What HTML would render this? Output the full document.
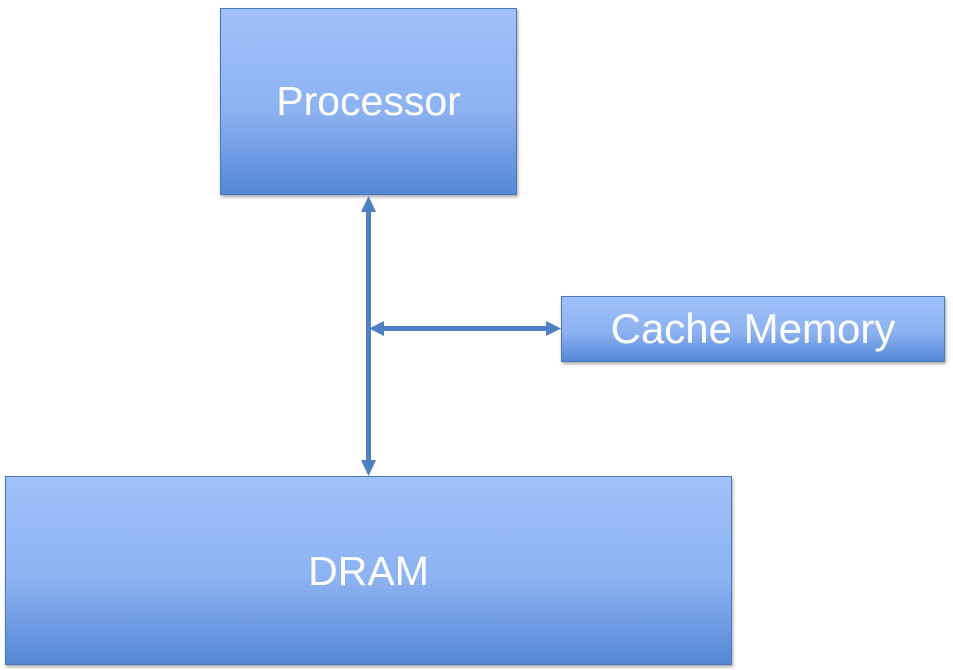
<!DOCTYPE html>
<html><head><style>
body{margin:0;width:953px;height:670px;background:#fff;position:relative;overflow:hidden;font-family:"Liberation Sans",sans-serif;}
.b{position:absolute;box-sizing:border-box;border:1px solid #4a78bd;background:linear-gradient(#a0c1fa,#8db2f2 55%,#5487d6);color:#fff;display:flex;align-items:center;justify-content:center;box-shadow:1px 2px 3px rgba(0,0,0,.35);}
</style></head><body>
<div class="b" style="left:220px;top:8px;width:297px;height:187px;font-size:41px;">Processor</div>
<div class="b" style="left:561px;top:296px;width:384px;height:66px;font-size:42px;">Cache Memory</div>
<div class="b" style="left:5px;top:476px;width:727px;height:189px;font-size:41px;"><span style="position:relative;top:1px">DRAM</span></div>
<svg width="953" height="670" style="position:absolute;left:0;top:0">
<g fill="#4f7fc4" stroke="none">
<rect x="366" y="206" width="5" height="262"/>
<polygon points="368.5,196 361,212 376,212"/>
<polygon points="368.5,476 361,460 376,460"/>
<rect x="378" y="326" width="172" height="5"/>
<polygon points="369,328.5 384,321 384,336"/>
<polygon points="561,328.5 546,321 546,336"/>
</g>
</svg>
</body></html>
